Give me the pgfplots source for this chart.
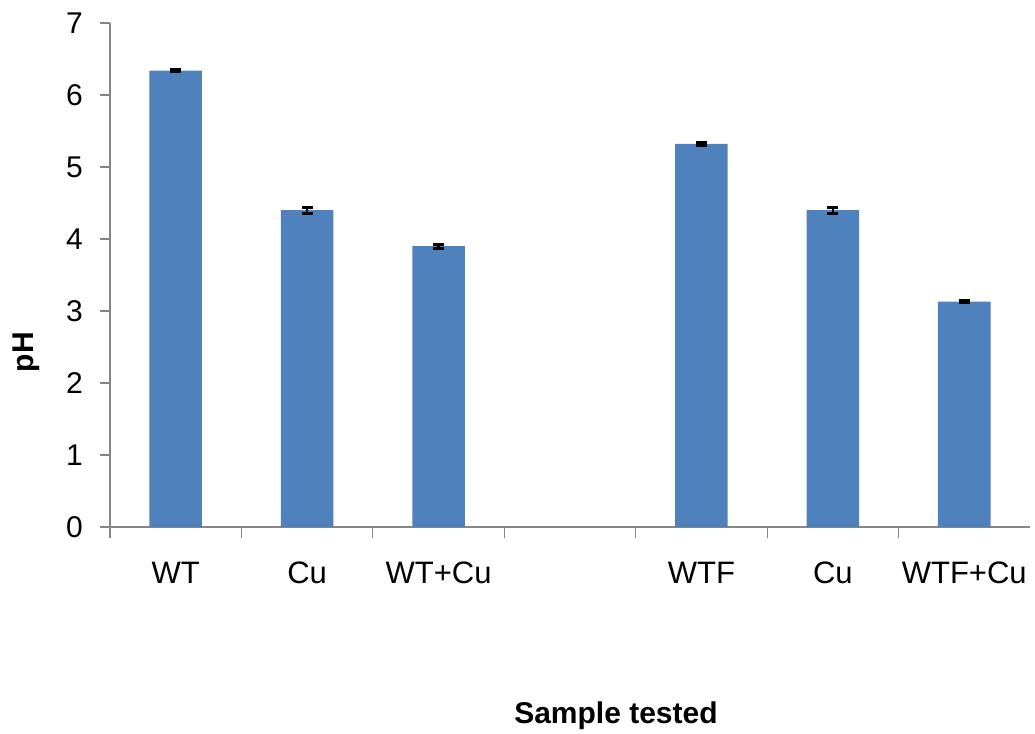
\documentclass[border=0pt]{standalone}
\usepackage{fontspec}
\setmainfont{Liberation Sans}
\usepackage{pgfplots}
\pgfplotsset{compat=1.18}
\definecolor{barblue}{HTML}{4F81BD}
\definecolor{axisgray}{HTML}{868686}

\begin{document}
\begin{tikzpicture}
% picture frame: 1px = 0.5pt, axis box lower-left at origin
\path[use as bounding box] (-55pt,-103.5pt) rectangle (462.5pt,263.5pt);
\begin{axis}[
    scale only axis,
    width=460pt, height=252pt,
    xmin=-0.5, xmax=6.5,
    ymin=0, ymax=7,
    axis lines*=left,
    axis line style={axisgray, line width=0.6pt},
    ytick={0,1,2,3,4,5,6,7},
    xtick={0,1,2,4,5,6},
    xticklabels={WT,Cu,WT+Cu,WTF,Cu,WTF+Cu},
    minor xtick={-0.5,0.5,1.5,2.5,3.5,4.5,5.5},
    tick align=outside,
    major tick length=5pt,
    minor tick length=5.5pt,
    tick style={axisgray, line width=0.6pt},
    major x tick style={draw=none},
    /pgf/number format/assume math mode=true,
    yticklabel style={font=\fontsize{15}{18}\selectfont, xshift=-5pt},
    xticklabel style={font=\fontsize{15.5}{18}\selectfont, yshift=-9pt},
    xlabel={Sample tested},
    ylabel={pH},
    xlabel style={at={(axis description cs:0.55,-0.375)}, anchor=center,
                  font=\bfseries\fontsize{15}{18}\selectfont},
    ylabel style={at={(axis description cs:-0.0913,0.347)}, anchor=center,
                  font=\bfseries\fontsize{15}{18}\selectfont},
]
\addplot[ybar, bar width=0.4, fill=barblue, draw=none,
         error bars/.cd, y dir=both, y explicit,
         error bar style={black, line width=1.2pt},
         error mark options={rotate=90, black, mark size=2.75pt, line width=1.5pt}]
    coordinates {
        (0,6.34) +- (0,0.02)
        (1,4.40) +- (0,0.04)
        (2,3.90) +- (0,0.025)
        (4,5.32) +- (0,0.025)
        (5,4.40) +- (0,0.04)
        (6,3.13) +- (0,0.01)
    };
\end{axis}
\end{tikzpicture}
\end{document}
